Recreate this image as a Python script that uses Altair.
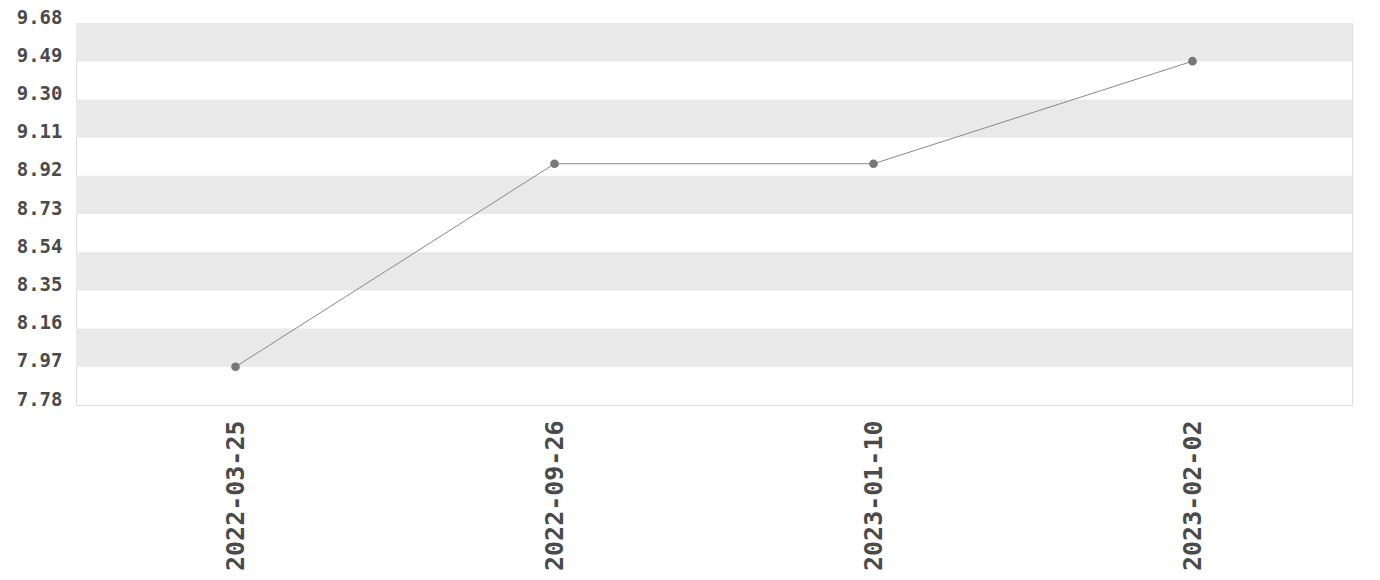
import altair as alt
import pandas as pd

dates = ["2022-03-25", "2022-09-26", "2023-01-10", "2023-02-02"]
values = [7.97, 8.98, 8.98, 9.49]
y_ticks = [7.78, 7.97, 8.16, 8.35, 8.54, 8.73, 8.92, 9.11, 9.30, 9.49, 9.68]

df = pd.DataFrame({"date": dates, "value": values})

# alternating bands between consecutive tick values (shaded from the top down)
band_rows = []
for i in range(len(y_ticks) - 1):
    if (len(y_ticks) - 2 - i) % 2 == 0:
        band_rows.append({"lo": y_ticks[i], "hi": y_ticks[i + 1]})
bands_df = pd.DataFrame(band_rows)

FONT = "DejaVu Sans Mono"

yscale = alt.Scale(domain=[y_ticks[0], y_ticks[-1]], nice=False, zero=False)
yaxis = alt.Axis(values=y_ticks, format=".2f", title=None, grid=False,
                 ticks=False, domain=False, labelPadding=14,
                 labelOverlap=False, labelFont=FONT, labelFontSize=19,
                 labelFontWeight="bold", labelColor="#4a4a4a",
                 labelBaseline="alphabetic")

bands = alt.Chart(bands_df).mark_rect(color="#e9e9e9").encode(
    y=alt.Y("lo:Q", scale=yscale, axis=yaxis),
    y2="hi:Q",
    x=alt.value(0),
    x2=alt.value(1276),
)

xenc = alt.X("date:O", scale=alt.Scale(type="point", padding=0.5),
             axis=alt.Axis(title=None, labelAngle=-90, ticks=False, domain=False,
                           labelPadding=15, labelOverlap=False, labelFont=FONT,
                           labelFontSize=25, labelFontWeight="bold", labelColor="#4a4a4a"))

line = alt.Chart(df).mark_line(color="#888", strokeWidth=1).encode(
    x=xenc, y=alt.Y("value:Q", scale=yscale, axis=yaxis))
points = alt.Chart(df).mark_point(filled=True, color="#777", size=75, opacity=1).encode(
    x=xenc, y=alt.Y("value:Q", scale=yscale, axis=yaxis))

chart = alt.layer(bands, line, points).properties(
    width=1276, height=382,
    autosize=alt.AutoSizeParams(type="none"),
    padding={"left": 68, "top": 15, "right": 20, "bottom": 165},
).configure_view(stroke="#dddddd").configure_axisY(labelOverlap=False)

chart.save("out.html", embed_options={"renderer": "svg", "actions": False})
